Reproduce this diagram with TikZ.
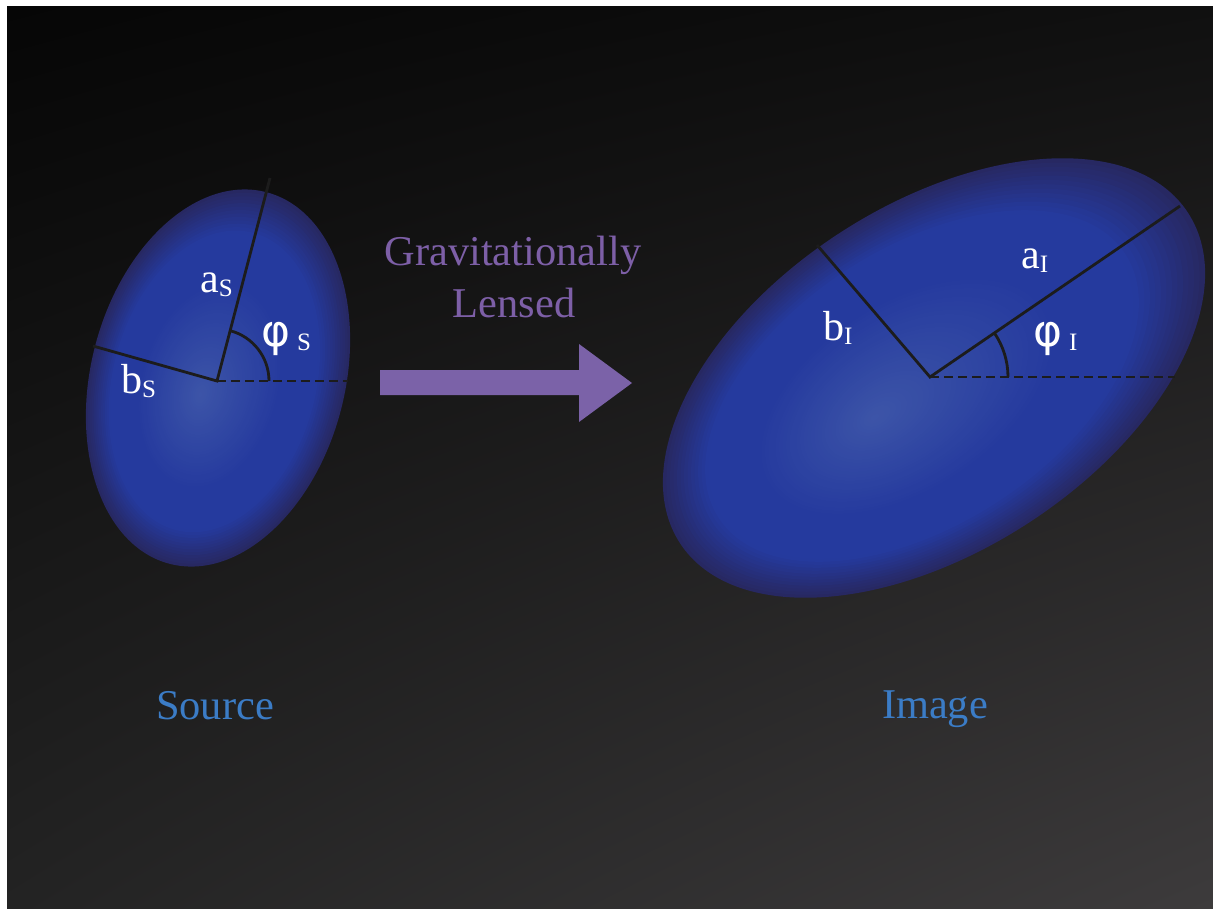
\documentclass[tikz,border=0pt]{standalone}
\usepackage{fontspec}
\usetikzlibrary{shadings}
\setmainfont{Liberation Serif}
\newfontfamily\phifont{DejaVu Sans}
\definecolor{bgUL}{HTML}{060606}
\definecolor{bgUR}{HTML}{101010}
\definecolor{bgLL}{HTML}{232323}
\definecolor{bgLR}{HTML}{3D3B3C}
\definecolor{cedge}{HTML}{272862}
\definecolor{cmid}{HTML}{253A9E}
\definecolor{ccen}{HTML}{3D55A8}
\definecolor{linec}{HTML}{1C1C1C}
\definecolor{purp}{HTML}{7D5FA7}
\definecolor{arrowc}{HTML}{7B62A8}
\definecolor{bluet}{HTML}{3B7CC6}
\newcommand\lsub[1]{\raisebox{-4pt}{\fontsize{25}{25}\selectfont #1}}
\newcommand\drawgalaxy[7]{%
 \foreach \i in {0,...,60}{%
   \pgfmathsetmacro\s{1-\i/60}%
   \pgfmathsetmacro\gx{#1+#6*\i/60}%
   \pgfmathsetmacro\gy{#2+#7*\i/60}%
   \pgfmathtruncatemacro\pe{min(100,100*(1-\s)/0.2)}%
   \pgfmathtruncatemacro\pq{min(100,100*\s/0.55)}%
   \fill[cmid!\pe!cedge!\pq!ccen, rotate around={#3:(\gx,\gy)}] (\gx,\gy) ellipse [x radius=#4*\s, y radius=#5*\s];
 }}
\begin{document}
\begin{tikzpicture}[x=1pt,y=1pt,
  axisline/.style={draw=linec, line width=2.8pt},
  dashline/.style={draw=linec, line width=2.8pt, dash pattern=on 9pt off 5pt},
  lbl/.style={text=white, font=\fontsize{42}{46}\selectfont, inner sep=0pt, anchor=base west},
  title/.style={font=\fontsize{42.4}{50}\selectfont, inner sep=0pt, anchor=base}]
\useasboundingbox (0,0) rectangle (1213,-908);
\fill[white] (0,0) rectangle (1213,-908);
\shade[upper left=bgUL, upper right=bgUR, lower left=bgLL, lower right=bgLR] (7,-6) rectangle (1213,-908);

% galaxies
\drawgalaxy{218}{-378}{75.4}{192}{127}{-18}{-17}
\drawgalaxy{934}{-378}{33}{303}{173}{-60}{-40}

% source axes
\coordinate (cS) at (217,-381);
\coordinate (aSend) at (270,-178);
\coordinate (bSend) at (93,-346);
\coordinate (dSend) at (348,-381);
\draw[axisline] (bSend) -- (cS) -- (aSend);
\draw[dashline] (cS) -- (dSend);
\draw[axisline] ([xshift=52pt]cS) arc[start angle=0, end angle=75.4, radius=52];

% image axes
\coordinate (cI) at (930,-377);
\coordinate (aIend) at (1180,-206);
\coordinate (bIend) at (817,-245);
\coordinate (dIend) at (1175,-377);
\draw[axisline] (bIend) -- (cI) -- (aIend);
\draw[dashline] (cI) -- (dIend);
\draw[axisline] ([xshift=78pt]cI) arc[start angle=0, end angle=34.4, radius=78];

% labels
\node[lbl] (aS) at (200,-292) {a\lsub{S}};
\node[lbl] (bS) at (121,-393) {b\lsub{S}};
\node[lbl] (phS) at (261,-346) {{\phifont\fontsize{44}{44}\selectfont φ}\hspace{7pt}\lsub{S}};
\node[lbl] (aI) at (1021,-268) {a\lsub{I}};
\node[lbl] (bI) at (823,-340) {b\lsub{I}};
\node[lbl] (phI) at (1033,-346) {{\phifont\fontsize{44}{44}\selectfont φ}\hspace{7pt}\lsub{I}};

% arrow
\fill[arrowc] (380,-370) -- (579,-370) -- (579,-344) -- (632,-383) -- (579,-422) -- (579,-395) -- (380,-395) -- cycle;

% texts
\node[title, text=purp] (grav) at (513,-265) {Gravitationally};
\node[title, text=purp] (lens) at (514,-317) {Lensed};
\node[title, text=bluet] (src) at (215,-719) {Source};
\node[title, text=bluet] (img) at (935,-718) {Image};
\end{tikzpicture}
\end{document}
